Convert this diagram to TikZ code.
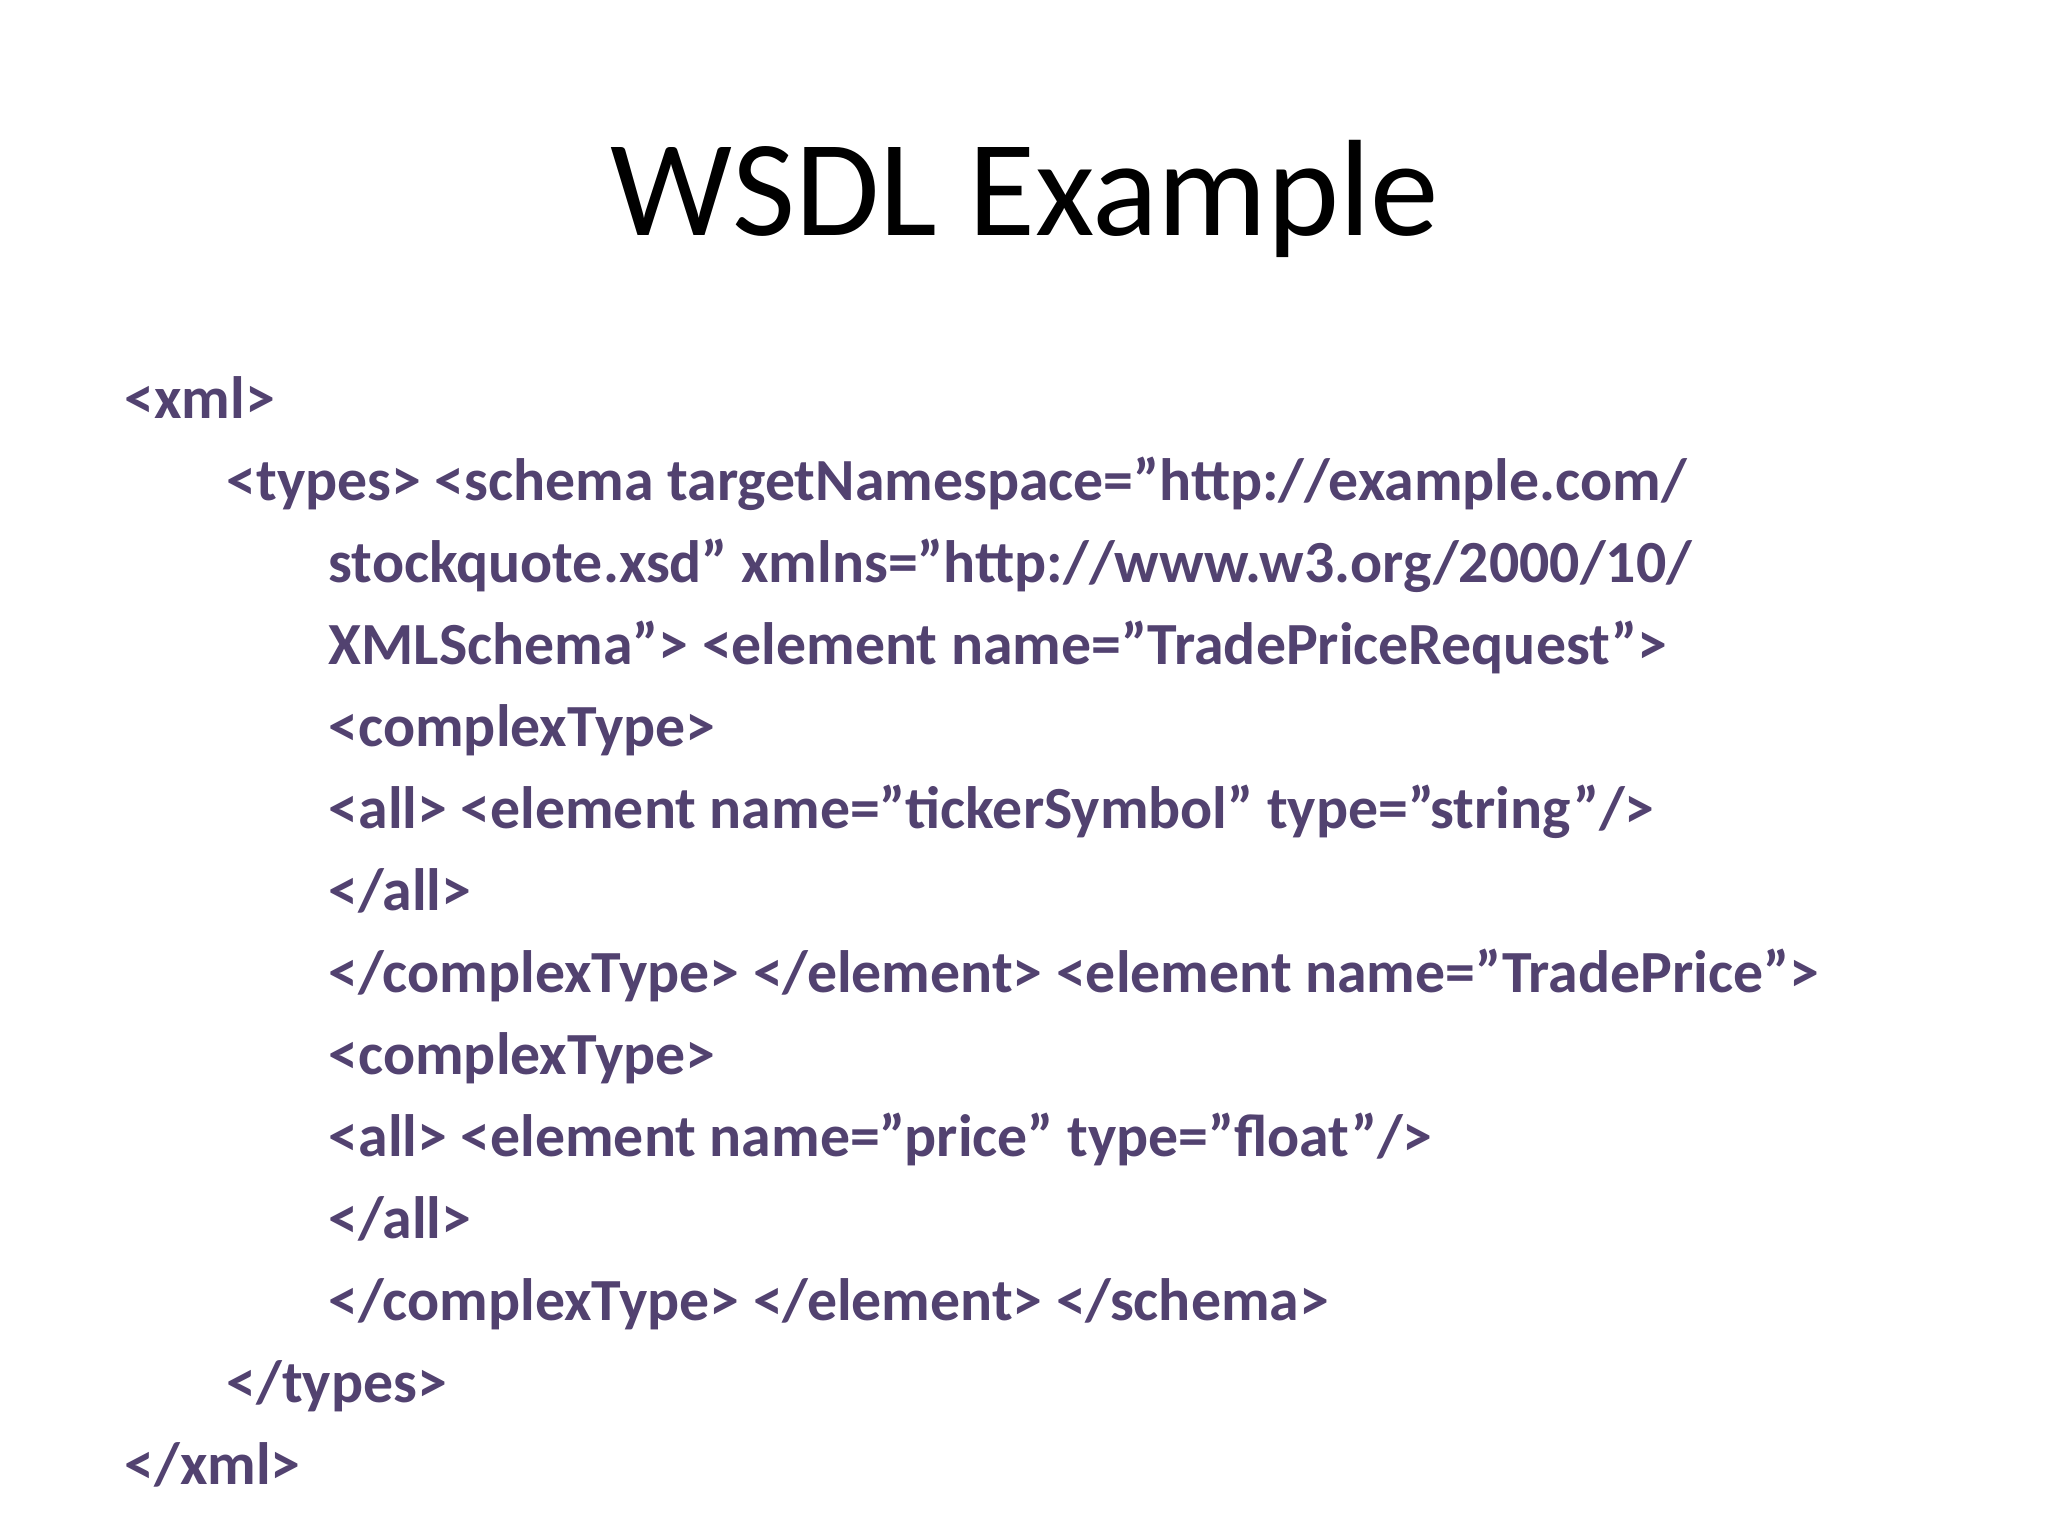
\documentclass[tikz,border=0pt]{standalone}
\usepackage{fontspec}
\setmainfont{Carlito}
\definecolor{code}{RGB}{82,66,112}
\begin{document}
\begin{tikzpicture}[x=0.01cm,y=-0.01cm,
  codeline/.style={anchor=base west,inner sep=0,text=code,font=\fontsize{17pt}{20pt}\selectfont\bfseries}]
\fill[white] (0,0) rectangle (2048,1536);
\useasboundingbox (0,0) rectangle (2048,1536);
\node[anchor=base,inner sep=0,font=\fontsize{39pt}{46pt}\selectfont] (title) at (1025,235) {WSDL Example};
\node[codeline] (l1) at (124,418) {<xml>};
\node[codeline] (l2) at (226,500) {<types> <schema targetNamespace="http://example.com/};
\node[codeline] (l3) at (328,582) {stockquote.xsd" xmlns="http://www.w3.org/2000/10/};
\node[codeline] (l4) at (328,664) {XMLSchema"> <element name="TradePriceRequest">};
\node[codeline] (l5) at (328,746) {<complexType>};
\node[codeline] (l6) at (328,828) {<all> <element name="tickerSymbol" type="string"/>};
\node[codeline] (l7) at (328,910) {</all>};
\node[codeline] (l8) at (328,992) {</complexType> </element> <element name="TradePrice">};
\node[codeline] (l9) at (328,1074) {<complexType>};
\node[codeline] (l10) at (328,1156) {<all> <element name="price" type="float"/>};
\node[codeline] (l11) at (328,1238) {</all>};
\node[codeline] (l12) at (328,1320) {</complexType> </element> </schema>};
\node[codeline] (l13) at (226,1402) {</types>};
\node[codeline] (l14) at (124,1484) {</xml>};
\end{tikzpicture}
\end{document}
